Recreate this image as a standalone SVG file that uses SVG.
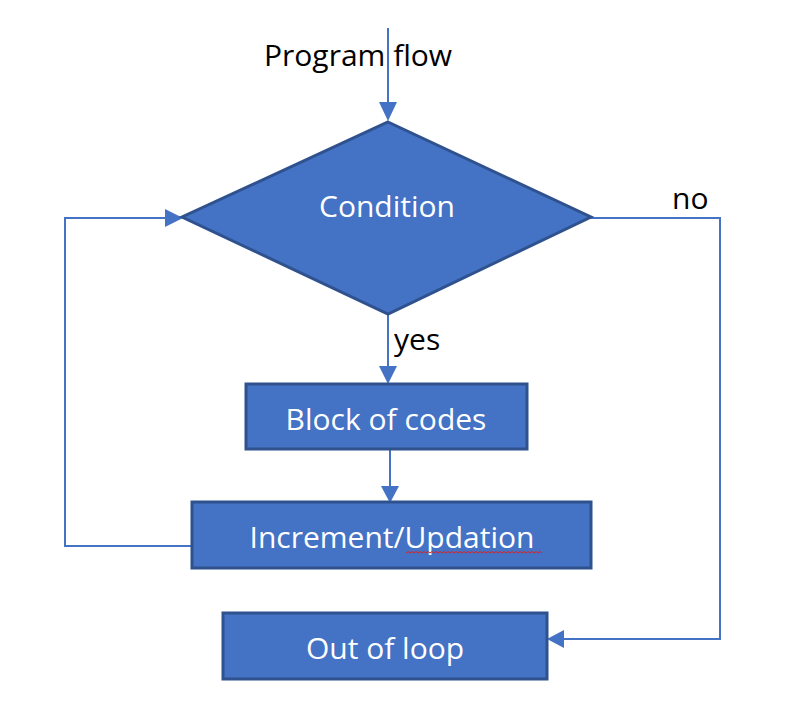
<svg xmlns="http://www.w3.org/2000/svg" width="788" height="711" viewBox="0 0 788 711">
<style>
.shape{fill:#4472C4;stroke:#2F528F;stroke-width:3}
.lbl{font-family:"Open Sans","Noto Sans",sans-serif;font-size:30px;fill:#ffffff;text-anchor:middle}
.txt{font-family:"Open Sans","Noto Sans",sans-serif;font-size:30px;fill:#000000}
.conn{fill:none;stroke:#4472C4;stroke-width:2}
</style>
<rect width="788" height="711" fill="#ffffff"/>
<g id="connectors">
<path class="conn" d="M388,28 L388,104"/>
<path d="M379,102 L397,102 L388,121 z" fill="#4472C4"/>
<path class="conn" d="M388,314 L388,368"/>
<path d="M379,366 L397,366 L388,384 z" fill="#4472C4"/>
<path class="conn" d="M390,449 L390,488"/>
<path d="M381,486 L399,486 L390,503 z" fill="#4472C4"/>
<path class="conn" d="M192,546 L65,546 L65,218 L166,218"/>
<path d="M165,209 L165,227 L183,218 z" fill="#4472C4"/>
<path class="conn" d="M591,218 L720,218 L720,639 L562,639"/>
<path d="M564,630 L564,648 L547,639 z" fill="#4472C4"/>
</g>
<g id="program-flow">
<text class="txt" x="264" y="66">Program flow</text>
</g>
<g id="condition">
<polygon class="shape" points="388,122 591,217 388,314 182,217"/>
<text class="lbl" x="387" y="217">Condition</text>
</g>
<g id="label-yes"><text class="txt" x="394" y="350">yes</text></g>
<g id="label-no"><text class="txt" x="672" y="209">no</text></g>
<g id="block">
<rect class="shape" x="246" y="384" width="281" height="65"/>
<text class="lbl" x="386" y="430">Block of codes</text>
</g>
<g id="increment">
<rect class="shape" x="192" y="502" width="399" height="66"/>
<text class="lbl" x="392" y="548">Increment/Updation</text>
<path d="M406,553 l2,-1.5 l2,1.5 l2,-1.5 l2,1.5 l2,-1.5 l2,1.5 l2,-1.5 l2,1.5 l2,-1.5 l2,1.5 l2,-1.5 l2,1.5 l2,-1.5 l2,1.5 l2,-1.5 l2,1.5 l2,-1.5 l2,1.5 l2,-1.5 l2,1.5 l2,-1.5 l2,1.5 l2,-1.5 l2,1.5 l2,-1.5 l2,1.5 l2,-1.5 l2,1.5 l2,-1.5 l2,1.5 l2,-1.5 l2,1.5 l2,-1.5 l2,1.5 l2,-1.5 l2,1.5 l2,-1.5 l2,1.5 l2,-1.5 l2,1.5 l2,-1.5 l2,1.5 l2,-1.5 l2,1.5 l2,-1.5 l2,1.5 l2,-1.5 l2,1.5 l2,-1.5 l2,1.5 l2,-1.5 l2,1.5 l2,-1.5 l2,1.5 l2,-1.5 l2,1.5 l2,-1.5 l2,1.5 l2,-1.5 l2,1.5 l2,-1.5 l2,1.5 l2,-1.5 l2,1.5 l2,-1.5 l2,1.5 l2,-1.5 l2,1.5" fill="none" stroke="#E02020" stroke-width="1"/>
</g>
<g id="out-of-loop">
<rect class="shape" x="223" y="613" width="324" height="66"/>
<text class="lbl" x="385" y="659">Out of loop</text>
</g>
</svg>
